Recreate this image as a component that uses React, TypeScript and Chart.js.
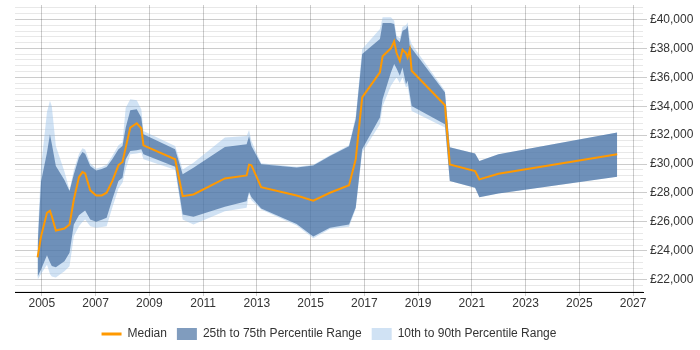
import { useEffect, useRef } from 'react';
import { Chart, registerables } from 'chart.js';

Chart.register(...registerables);

// Sample dates as decimal years
const years = [
  2004.84, 2004.97, 2005.19, 2005.3, 2005.37, 2005.52, 2005.84, 2006.03, 2006.19, 2006.38,
  2006.51, 2006.61, 2006.8, 2007.02, 2007.23, 2007.41, 2007.62, 2007.85, 2008.0, 2008.12,
  2008.29, 2008.53, 2008.7, 2008.78, 2009.96, 2010.24, 2010.64, 2011.81, 2012.62, 2012.71,
  2012.8, 2013.16, 2014.48, 2015.1, 2015.72, 2016.43, 2016.68, 2016.92, 2017.58, 2017.68,
  2017.99, 2018.11, 2018.2, 2018.32, 2018.42, 2018.55, 2018.61, 2018.69, 2018.76, 2020.0,
  2020.18, 2021.12, 2021.28, 2021.99, 2026.41,
];

const median = [
  23550, 25000, 26630, 26760, 26390, 25400, 25540, 25820, 27550, 29100,
  29445, 29355, 28180, 27830, 27830, 28016, 28821, 29930, 30139, 31137,
  32524, 32822, 32475, 31297, 30326, 27780, 27898, 29008, 29216, 29958,
  29910, 28405, 27829, 27470, 28016, 28530, 30326, 34605, 36338, 37448,
  38003, 38488, 37677, 37143, 37906, 37677, 37379, 37906, 36449, 34071,
  29979, 29514, 28939, 29334, 30673,
];

const p25 = [
  22200, 22700, 23690, 23200, 22950, 22860, 23270, 23860, 25820, 26460,
  26650, 26790, 26165, 26005, 26150, 26283, 27552, 28821, 29057, 30326,
  30902, 30960, 31019, 30673, 29819, 26512, 26352, 27045, 27434, 28059,
  27700, 26930, 25860, 24990, 25589, 25818, 27000, 31019, 33217, 34487,
  36338, 36914, 36616, 36103, 36685, 35527, 35756, 34833, 34022, 32753,
  28821, 28363, 27711, 27968, 29126,
];

const p75 = [
  24300, 28800, 30800, 32060, 31400, 29860, 28900, 28130, 29300, 30450,
  30830, 30720, 29860, 29560, 29650, 29792, 30326, 31019, 31248, 32524,
  33724, 33793, 33217, 32059, 31019, 29286, 29750, 31180, 31366, 31942,
  31248, 29990, 29760, 29900, 30555, 31230, 33100, 37607, 38648, 39757,
  39757, 39688, 38648, 38419, 39223, 39341, 39570, 38183, 38003, 34951,
  31170, 30721, 30208, 30673, 32177,
];

const p10 = [
  22000, 22400, 23040, 22400, 22230, 22160, 22580, 22930, 25010, 25700,
  26000, 26165, 25700, 25590, 25650, 25700, 26976, 28300, 28700, 29632,
  30673, 30730, 30790, 30326, 29600, 26165, 25818, 26740, 26976, 27950,
  27500, 26858, 25750, 24870, 25500, 25660, 26900, 30790, 32753, 34000,
  35410, 35756, 35990, 35600, 36000, 35300, 35400, 34487, 33675, 32524,
  28821, 28363, 27711, 27968, 29126,
];

const p90 = [
  24800, 29800, 33600, 34370, 34000, 31250, 29480, 28200, 29600, 30700,
  31100, 31000, 30050, 29700, 29800, 29950, 30550, 31300, 31500, 33900,
  34487, 34417, 33793, 32290, 31248, 29630, 30097, 31830, 31942, 32358,
  31595, 30050, 29820, 29950, 30600, 31300, 33300, 37954, 39341, 40153,
  40153, 39917, 38880, 38700, 39500, 39600, 39806, 38700, 38301, 35062,
  31170, 30721, 30208, 30673, 32177,
];

const xTickYears = [2005, 2007, 2009, 2011, 2013, 2015, 2017, 2019, 2021, 2023, 2025, 2027];
const yLabelledTicks = [22000, 24000, 26000, 28000, 30000, 32000, 34000, 36000, 38000, 40000];
const yMinorStep = 400;

const FONT = "'Liberation Sans', Arial, sans-serif";
const TEXT = '#333';
const ORANGE = '#ff9900';
const BAND_MID = 'rgba(50,95,150,0.62)';
const BAND_WIDE = 'rgba(150,190,230,0.45)';
const GRID_MAJOR = 'rgba(0,0,0,0.2)';
const GRID_MINOR = 'rgba(0,0,0,0.09)';

const fmtPounds = (v: number) => '£' + String(v).replace(/\B(?=(\d{3})+(?!\d))/g, ',');

export default function App() {
  const ref = useRef<HTMLCanvasElement>(null);

  useEffect(() => {
    const canvas = ref.current;
    if (!canvas) return;
    const pts = (vals: number[]) => years.map((x, i) => ({ x, y: vals[i] }));

    // every gridline value between the labelled ticks
    const yGrid: number[] = [];
    for (let v = yLabelledTicks[0] - yMinorStep * 2; v <= yLabelledTicks[yLabelledTicks.length - 1] + yMinorStep * 2; v += yMinorStep) {
      yGrid.push(v);
    }
    const isMajor = (v: number) => yLabelledTicks.includes(v);

    const hidden = { borderColor: 'transparent', borderWidth: 0, pointRadius: 0, fill: false as const };

    const chart = new Chart(canvas, {
      type: 'line',
      data: {
        datasets: [
          { label: 'Median', data: pts(median), borderColor: ORANGE, borderWidth: 2, pointRadius: 0, fill: false, tension: 0 },
          { label: 'P25', data: pts(p25), ...hidden },
          { label: '25th to 75th Percentile Range', data: pts(p75), borderColor: 'transparent', borderWidth: 0, pointRadius: 0, backgroundColor: BAND_MID, fill: '-1' },
          { label: 'P10', data: pts(p10), ...hidden },
          { label: '10th to 90th Percentile Range', data: pts(p90), borderColor: 'transparent', borderWidth: 0, pointRadius: 0, backgroundColor: BAND_WIDE, fill: '-1' },
        ],
      },
      options: {
        animation: false,
        responsive: true,
        maintainAspectRatio: false,
        events: [],
        layout: { padding: { left: 15, top: 5, right: 0, bottom: 0 } },
        plugins: {
          tooltip: { enabled: false },
          legend: {
            position: 'bottom',
            fullSize: false,
            labels: {
              usePointStyle: true,
              pointStyleWidth: 20,
              boxHeight: 12,
              padding: 10,
              color: TEXT,
              font: { family: FONT, size: 12 },
              generateLabels: () => [
                { text: 'Median', pointStyle: 'line', strokeStyle: ORANGE, fillStyle: ORANGE, lineWidth: 3, datasetIndex: 0, hidden: false, fontColor: TEXT },
                { text: '25th to 75th Percentile Range', pointStyle: 'rect', strokeStyle: BAND_MID, fillStyle: BAND_MID, lineWidth: 0, datasetIndex: 2, hidden: false, fontColor: TEXT },
                { text: '10th to 90th Percentile Range', pointStyle: 'rect', strokeStyle: BAND_WIDE, fillStyle: BAND_WIDE, lineWidth: 0, datasetIndex: 4, hidden: false, fontColor: TEXT },
              ],
            },
          },
        },
        scales: {
          x: {
            type: 'linear',
            min: 2004.0,
            max: 2027.37,
            afterBuildTicks: (s: any) => {
              s.ticks = xTickYears.map((value) => ({ value }));
            },
            afterFit: (s: any) => {
              s.height = 26;
              s.paddingLeft = 0;
              s.paddingRight = 0;
            },
            ticks: {
              callback: (v: any) => String(v),
              color: TEXT,
              font: { family: FONT, size: 12 },
              padding: 0,
              maxRotation: 0,
              autoSkip: false,
            },
            grid: { color: GRID_MAJOR, tickLength: 4 },
            border: { color: '#000', width: 1 },
          },
          y: {
            position: 'right',
            min: 21150,
            max: 41000,
            afterBuildTicks: (s: any) => {
              s.ticks = yGrid.filter((v) => v > 21150 && v < 41000).map((value) => ({ value }));
            },
            afterFit: (s: any) => {
              s.width = 57;
              s.paddingTop = 0;
              s.paddingBottom = 0;
            },
            ticks: {
              callback: (v: any) => (isMajor(Number(v)) ? fmtPounds(Number(v)) : ''),
              color: TEXT,
              font: { family: FONT, size: 12 },
              padding: 3,
              autoSkip: false,
            },
            grid: {
              color: (c: any) => (c.tick && isMajor(c.tick.value) ? GRID_MAJOR : GRID_MINOR),
              tickColor: (c: any) => (c.tick && isMajor(c.tick.value) ? GRID_MAJOR : 'transparent'),
              tickLength: 4,
            },
            border: { display: false },
          },
        },
      },
    });

    return () => chart.destroy();
  }, []);

  return (
    <div style={{ position: 'fixed', left: 0, top: 0, width: 700, height: 350, background: '#fff' }}>
      <canvas ref={ref} />
    </div>
  );
}
